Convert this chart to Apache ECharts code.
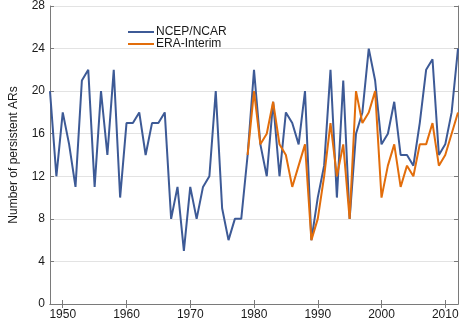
<!DOCTYPE html>
<html>
<head>
<meta charset="utf-8">
<script src="https://cdn.jsdelivr.net/npm/echarts@6/dist/echarts.min.js"></script>
<style>
  html, body { margin: 0; padding: 0; background: #fff; }
  #chart { width: 462px; height: 322px; }
</style>
</head>
<body>
<div id="chart"></div>
<script>
// years 1948..2012
const years = [];
for (let y = 1948; y <= 2012; y++) years.push(y);

const ncepValues = [
  20, 12, 18, 15, 11, 21, 22, 11, 20, 14,   // 1948-1957
  22, 10, 17, 17, 18, 14, 17, 17, 18, 8,    // 1958-1967
  11, 5, 11, 8, 11, 12, 20, 9, 6, 8,        // 1968-1977
  8, 14, 22, 15, 12, 19, 12, 18, 17, 15,    // 1978-1987
  20, 6, 10, 13, 22, 10, 21, 8, 16, 18,     // 1988-1997
  24, 21, 15, 16, 19, 14, 14, 13, 17, 22,   // 1998-2007
  23, 14, 15, 18, 24                        // 2008-2012
];

const eraYears = [];
for (let y = 1979; y <= 2012; y++) eraYears.push(y);
const eraValues = [
  14, 20, 15, 16, 19, 15, 14, 11, 13, 15,   // 1979-1988
  6, 8, 12, 17, 12, 15, 8, 20, 17, 18,      // 1989-1998
  20, 10, 13, 15, 11, 13, 12, 15, 15, 17,   // 1999-2008
  13, 14, 16, 18                            // 2009-2012
];

const xTicks = [1950, 1960, 1970, 1980, 1990, 2000, 2010];
const yTicks = [0, 4, 8, 12, 16, 20, 24, 28];

const chart = echarts.init(document.getElementById('chart'));
const textColor = '#1a1a1a';
const axisColor = '#7a7a7a';
const font = 'Liberation Sans, Arial, sans-serif';

const option = {
  animation: false,
  backgroundColor: '#fff',
  textStyle: { fontFamily: font },
  grid: { left: 33, right: 4, top: 6, bottom: 18, containLabel: false },
  legend: {
    orient: 'vertical',
    left: 123,
    top: 21,
    itemGap: 0,
    itemWidth: 26,
    itemHeight: 2,
    icon: 'rect',
    textStyle: { color: textColor, fontSize: 12, fontFamily: font, padding: [0, 0, 0, -3] },
    data: ['NCEP/NCAR', 'ERA-Interim']
  },
  xAxis: [
    {
      type: 'value',
      min: 1948,
      max: 2012,
      axisLine: { show: true, lineStyle: { color: axisColor, width: 1 } },
      axisTick: { show: true, inside: true, length: 4, customValues: xTicks, lineStyle: { color: axisColor } },
      axisLabel: {
        customValues: xTicks,
        formatter: v => String(v),
        color: textColor, fontSize: 12, margin: 5, fontFamily: font
      },
      splitLine: { show: false }
    },
    {
      type: 'value',
      position: 'top',
      min: 1948,
      max: 2012,
      axisLine: { show: true, lineStyle: { color: axisColor, width: 1 } },
      axisTick: { show: true, inside: true, length: 4, customValues: xTicks, lineStyle: { color: axisColor } },
      axisLabel: { show: false },
      splitLine: { show: false }
    }
  ],
  yAxis: [
    {
      type: 'value',
      min: 0,
      max: 28,
      interval: 4,
      name: 'Number of persistent ARs',
      nameLocation: 'middle',
      nameRotate: 90,
      nameGap: 30,
      nameTextStyle: { color: textColor, fontSize: 12, fontFamily: font },
      axisLine: { show: true, lineStyle: { color: axisColor, width: 1 } },
      axisTick: { show: true, inside: true, length: 4, customValues: yTicks, lineStyle: { color: axisColor } },
      axisLabel: { customValues: yTicks, color: textColor, fontSize: 12, margin: 5, fontFamily: font },
      splitLine: { show: true, lineStyle: { color: '#e3e3e3', width: 1 } }
    },
    {
      type: 'value',
      position: 'right',
      min: 0,
      max: 28,
      interval: 4,
      axisLine: { show: true, lineStyle: { color: axisColor, width: 1 } },
      axisTick: { show: true, inside: true, length: 4, lineStyle: { color: axisColor } },
      axisLabel: { show: false },
      splitLine: { show: false }
    }
  ],
  series: [
    {
      name: 'NCEP/NCAR',
      type: 'line',
      data: years.map((y, i) => [y, ncepValues[i]]),
      symbol: 'none',
      itemStyle: { color: '#3d5a96' },
      lineStyle: { color: '#3d5a96', width: 2 },
      z: 2
    },
    {
      name: 'ERA-Interim',
      type: 'line',
      data: eraYears.map((y, i) => [y, eraValues[i]]),
      symbol: 'none',
      itemStyle: { color: '#e26d0b' },
      lineStyle: { color: '#e26d0b', width: 2 },
      z: 3
    }
  ]
};

chart.setOption(option);
</script>
</body>
</html>
